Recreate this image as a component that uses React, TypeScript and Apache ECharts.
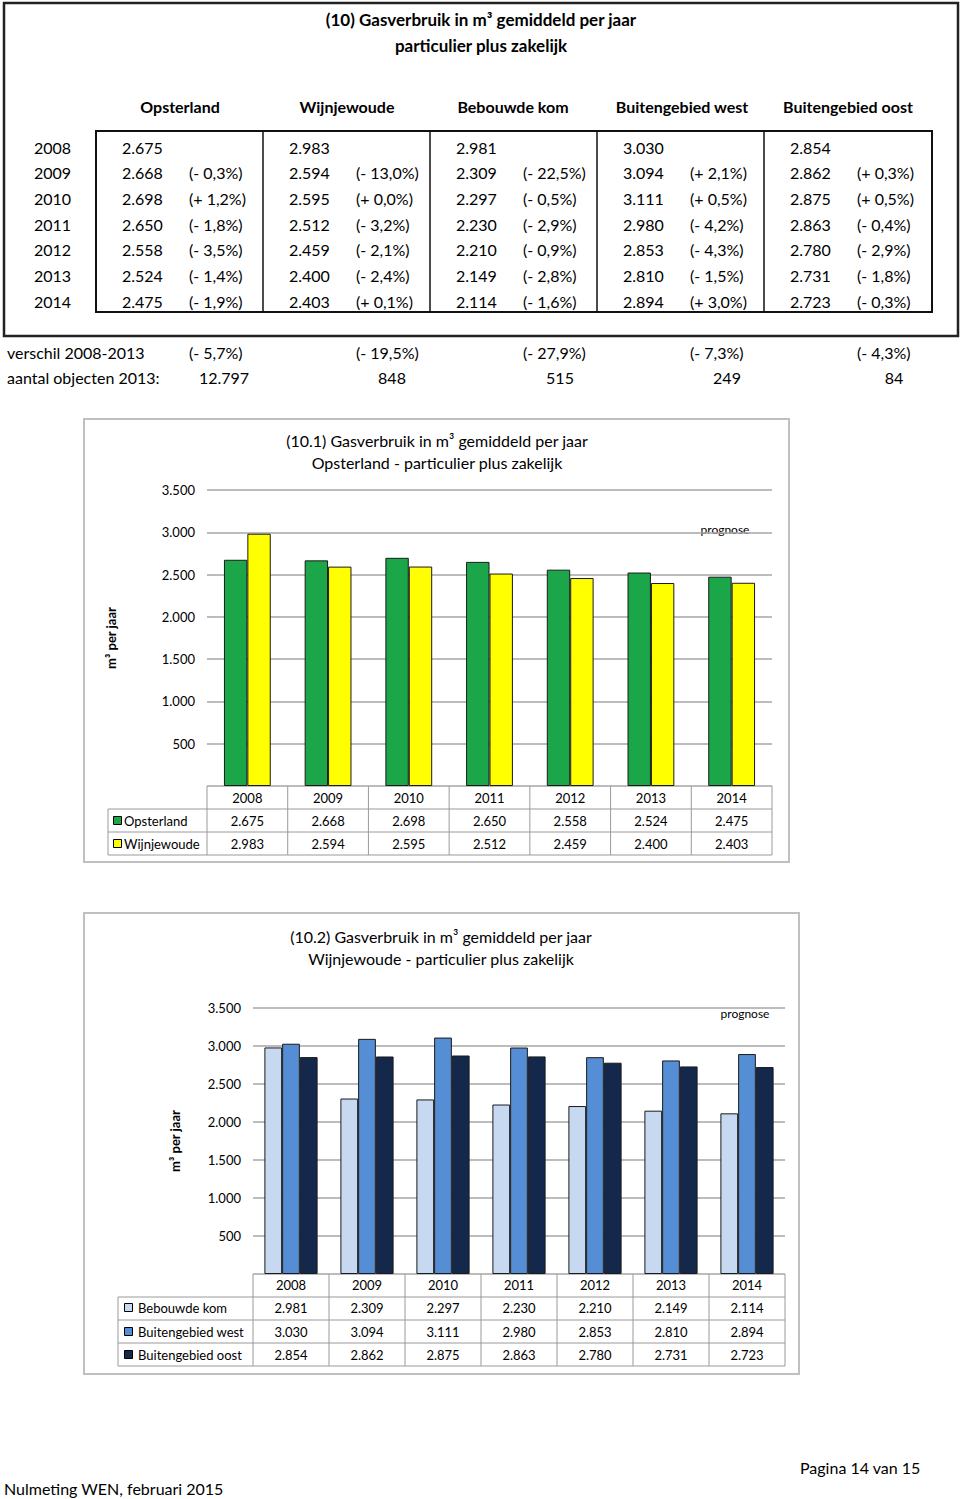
import React, { useEffect, useRef } from "react";
import * as echarts from "echarts";

const years = ["2008", "2009", "2010", "2011", "2012", "2013", "2014"];
const regions = ["Opsterland", "Wijnjewoude", "Bebouwde kom", "Buitengebied west", "Buitengebied oost"];

const opsterland = [2675, 2668, 2698, 2650, 2558, 2524, 2475];
const wijnjewoude = [2983, 2594, 2595, 2512, 2459, 2400, 2403];
const bebouwdeKom = [2981, 2309, 2297, 2230, 2210, 2149, 2114];
const buitenWest = [3030, 3094, 3111, 2980, 2853, 2810, 2894];
const buitenOost = [2854, 2862, 2875, 2863, 2780, 2731, 2723];

const pctOpsterland = ["", "(- 0,3%)", "(+ 1,2%)", "(- 1,8%)", "(- 3,5%)", "(- 1,4%)", "(- 1,9%)"];
const pctWijnjewoude = ["", "(- 13,0%)", "(+ 0,0%)", "(- 3,2%)", "(- 2,1%)", "(- 2,4%)", "(+ 0,1%)"];
const pctBebouwdeKom = ["", "(- 22,5%)", "(- 0,5%)", "(- 2,9%)", "(- 0,9%)", "(- 2,8%)", "(- 1,6%)"];
const pctBuitenWest = ["", "(+ 2,1%)", "(+ 0,5%)", "(- 4,2%)", "(- 4,3%)", "(- 1,5%)", "(+ 3,0%)"];
const pctBuitenOost = ["", "(+ 0,3%)", "(+ 0,5%)", "(- 0,4%)", "(- 2,9%)", "(- 1,8%)", "(- 0,3%)"];

const verschil = ["(- 5,7%)", "(- 19,5%)", "(- 27,9%)", "(- 7,3%)", "(- 4,3%)"];
const aantal = ["12.797", "848", "515", "249", "84"];

const pageTitle = ["(10) Gasverbruik in m³ gemiddeld per jaar", "particulier plus zakelijk"];
const chart1Title = ["(10.1) Gasverbruik in m³ gemiddeld per jaar", "Opsterland - particulier plus zakelijk"];
const chart2Title = ["(10.2) Gasverbruik in m³ gemiddeld per jaar", "Wijnjewoude - particulier plus zakelijk"];
const yName = "m³ per jaar";
const prognose = "prognose";
const footerLeft = "Nulmeting WEN, februari 2015";
const footerRight = "Pagina 14 van 15";

const FONT = "Lato, 'Open Sans', 'DejaVu Sans', sans-serif";
const C_GREEN = "#1ba64a";
const C_YELLOW = "#ffff00";
const C_LIGHT = "#c6d9f1";
const C_MID = "#558ed5";
const C_DARK = "#13284a";

const fmt = (n: number) => String(n).replace(/\B(?=(\d{3})+(?!\d))/g, ".");

function txt(x: number, y: number, text: string, opts: any = {}) {
  return {
    type: "text",
    x,
    y,
    silent: true,
    style: {
      text,
      fill: opts.fill || "#000",
      fontSize: opts.size || 16,
      fontFamily: FONT,
      fontWeight: opts.weight || "normal",
      align: opts.align || "left",
      verticalAlign: "middle",
    },
  };
}
function ln(x1: number, y1: number, x2: number, y2: number, color = "#000", w = 1) {
  return { type: "line", silent: true, shape: { x1, y1, x2, y2 }, style: { stroke: color, lineWidth: w } };
}
function box(x: number, y: number, w: number, h: number, stroke: string, lw: number, fill = "none") {
  return { type: "rect", silent: true, shape: { x, y, width: w, height: h }, style: { stroke, lineWidth: lw, fill } };
}

function buildGraphics() {
  const g: any[] = [];
  // ---------- top table ----------
  g.push(box(4, 3, 954, 333, "#222", 2.5));
  g.push(txt(481, 19, pageTitle[0], { weight: "bold", align: "center", size: 17 }));
  g.push(txt(481, 45, pageTitle[1], { weight: "bold", align: "center", size: 17 }));
  const headerX = [180, 347, 513, 682, 848];
  regions.forEach((r, i) => g.push(txt(headerX[i], 106, r, { weight: "bold", align: "center", size: 16 })));
  g.push(box(96, 131, 836, 181, "#111", 2));
  [263, 430, 597, 764].forEach((x) => g.push(ln(x, 131, x, 312, "#111", 1.5)));
  const vals = [opsterland, wijnjewoude, bebouwdeKom, buitenWest, buitenOost];
  const pcts = [pctOpsterland, pctWijnjewoude, pctBebouwdeKom, pctBuitenWest, pctBuitenOost];
  const rowY = (k: number) => 147 + k * 25.67;
  years.forEach((yr, k) => {
    g.push(txt(34, rowY(k), yr, { size: 16 }));
    vals.forEach((arr, i) => {
      g.push(txt(122 + 167 * i, rowY(k), fmt(arr[k]), { size: 16 }));
      if (pcts[i][k]) g.push(txt(189 + 167 * i, rowY(k), pcts[i][k], { size: 16 }));
    });
  });
  g.push(txt(7, 352, "verschil 2008-2013", { size: 16 }));
  verschil.forEach((v, i) => g.push(txt(189 + 167 * i, 352, v, { size: 16 })));
  g.push(txt(7, 377, "aantal objecten 2013:", { size: 16 }));
  const aantalX = [224, 392, 560, 727, 894];
  aantal.forEach((v, i) => g.push(txt(aantalX[i], 377, v, { size: 16, align: "center" })));

  // ---------- chart 1 frame & table ----------
  g.push(box(84, 419, 705, 443, "#c0c0c0", 2));
  g.push(txt(437, 440, chart1Title[0], { align: "center", size: 16 }));
  g.push(txt(437, 462, chart1Title[1], { align: "center", size: 16 }));
  g.push(txt(725, 529, prognose, { align: "center", size: 12 }));
  {
    const L = 207, R = 772, top = 786, rows = [809, 832, 855], lx = 108;
    const cw = (R - L) / years.length;
    const lc = "#9a9a9a";
    rows.forEach((y) => g.push(ln(lx, y, R, y, lc, 1)));
    g.push(ln(lx, rows[0], lx, rows[2], lc, 1));
    for (let k = 0; k <= years.length; k++) g.push(ln(L + k * cw, top, L + k * cw, rows[2], lc, 1));
    years.forEach((yr, k) => {
      const cx = L + (k + 0.5) * cw;
      g.push(txt(cx, 798, yr, { align: "center", size: 13 }));
      g.push(txt(cx, 821, fmt(opsterland[k]), { align: "center", size: 13 }));
      g.push(txt(cx, 844, fmt(wijnjewoude[k]), { align: "center", size: 13 }));
    });
    g.push(box(113.5, 816.5, 8, 8, "#000", 1, C_GREEN));
    g.push(txt(124, 821, regions[0], { size: 13 }));
    g.push(box(113.5, 839.5, 8, 8, "#000", 1, C_YELLOW));
    g.push(txt(124, 844, regions[1], { size: 13 }));
  }

  // ---------- chart 2 frame & table ----------
  g.push(box(84, 913, 715, 461, "#c0c0c0", 2));
  g.push(txt(441, 936, chart2Title[0], { align: "center", size: 16 }));
  g.push(txt(441, 958, chart2Title[1], { align: "center", size: 16 }));
  g.push(txt(745, 1013, prognose, { align: "center", size: 12 }));
  {
    const L = 253, R = 785, top = 1274, rows = [1297, 1320, 1343, 1366], lx = 118;
    const cw = (R - L) / years.length;
    const lc = "#9a9a9a";
    rows.forEach((y) => g.push(ln(lx, y, R, y, lc, 1)));
    g.push(ln(lx, rows[0], lx, rows[3], lc, 1));
    for (let k = 0; k <= years.length; k++) g.push(ln(L + k * cw, top, L + k * cw, rows[3], lc, 1));
    const series = [bebouwdeKom, buitenWest, buitenOost];
    const cols = [C_LIGHT, C_MID, C_DARK];
    const ry = [1308, 1332, 1355];
    years.forEach((yr, k) => {
      const cx = L + (k + 0.5) * cw;
      g.push(txt(cx, 1285, yr, { align: "center", size: 13 }));
      series.forEach((s, j) => g.push(txt(cx, ry[j], fmt(s[k]), { align: "center", size: 13 })));
    });
    series.forEach((_, j) => {
      g.push(box(124.5, ry[j] - 4.5, 8, 8, "#000", 1, cols[j]));
      g.push(txt(138, ry[j], regions[j + 2], { size: 13 }));
    });
  }

  // ---------- footer ----------
  g.push(txt(800, 1467, footerRight, { size: 16 }));
  g.push(txt(4, 1488, footerLeft, { size: 16 }));
  return g;
}

const barStyle = (color: string) => ({ color, borderColor: "#1a1a1a", borderWidth: 1 });

function yAxisCfg(gridIndex: number, nameGap: number) {
  return {
    type: "value",
    gridIndex,
    min: 0,
    max: 3500,
    interval: 500,
    name: yName,
    nameLocation: "middle",
    nameRotate: 90,
    nameGap,
    nameTextStyle: { fontFamily: FONT, fontSize: 13, fontWeight: "bold", color: "#000" },
    axisLine: { show: false },
    axisTick: { show: false },
    axisLabel: {
      margin: 12,
      color: "#000",
      fontFamily: FONT,
      fontSize: 13,
      formatter: (v: number) => (v === 0 ? "" : fmt(v)),
    },
    splitLine: { lineStyle: { color: "#a6a6a6", width: 1.5 } },
  };
}
function xAxisCfg(gridIndex: number) {
  return {
    type: "category",
    gridIndex,
    data: years,
    axisLine: { show: false },
    axisTick: { show: false },
    axisLabel: { show: false },
  };
}

export default function App() {
  const ref = useRef<HTMLDivElement>(null);
  useEffect(() => {
    if (!ref.current) return;
    const chart = echarts.init(ref.current, null, { renderer: "svg" });
    chart.setOption({
      animation: false,
      backgroundColor: "#fff",
      textStyle: { fontFamily: FONT },
      grid: [
        { left: 207, width: 565, top: 490, height: 296 },
        { left: 253, width: 532, top: 1008, height: 266 },
      ],
      xAxis: [xAxisCfg(0), xAxisCfg(1)],
      yAxis: [yAxisCfg(0, 90), yAxisCfg(1, 72)],
      series: [
        { name: regions[0], type: "bar", xAxisIndex: 0, yAxisIndex: 0, data: opsterland, barGap: "0%", barCategoryGap: "42%", itemStyle: barStyle(C_GREEN) },
        { name: regions[1], type: "bar", xAxisIndex: 0, yAxisIndex: 0, data: wijnjewoude, barGap: "0%", barCategoryGap: "42%", itemStyle: barStyle(C_YELLOW) },
        { name: regions[2], type: "bar", xAxisIndex: 1, yAxisIndex: 1, data: bebouwdeKom, barGap: "0%", barCategoryGap: "30%", itemStyle: barStyle(C_LIGHT) },
        { name: regions[3], type: "bar", xAxisIndex: 1, yAxisIndex: 1, data: buitenWest, barGap: "0%", barCategoryGap: "30%", itemStyle: barStyle(C_MID) },
        { name: regions[4], type: "bar", xAxisIndex: 1, yAxisIndex: 1, data: buitenOost, barGap: "0%", barCategoryGap: "30%", itemStyle: barStyle(C_DARK) },
      ],
      graphic: { elements: buildGraphics() },
    });
    return () => chart.dispose();
  }, []);
  return (
    <div
      ref={ref}
      style={{ position: "absolute", left: 0, top: 0, width: 960, height: 1499, background: "#fff" }}
    />
  );
}
